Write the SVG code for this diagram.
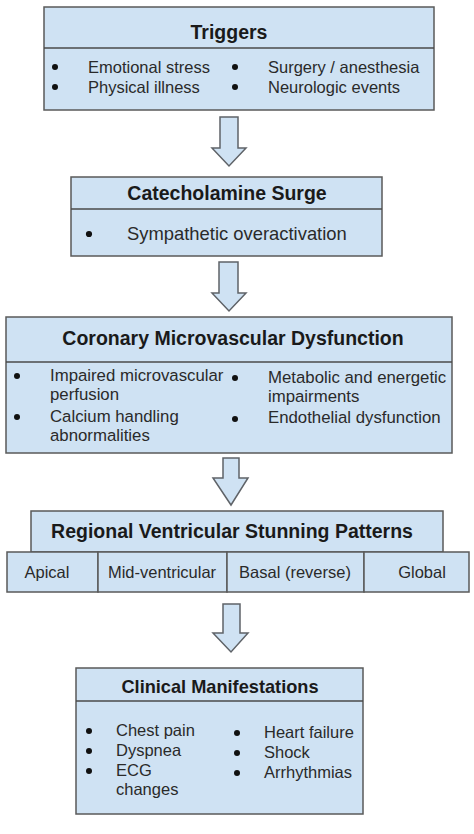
<svg xmlns="http://www.w3.org/2000/svg" width="474" height="834" viewBox="0 0 474 834">
<style>
.box{fill:#cfe2f3;stroke:#5a5a5a;stroke-width:1.5}
.div{stroke:#4a4a4a;stroke-width:1.3}
.arr{fill:#cfe2f3;stroke:#5f6368;stroke-width:1.5;stroke-linejoin:miter}
.t{font-family:"Liberation Sans",Arial,sans-serif;font-weight:bold;fill:#1a1a1a;text-anchor:middle}
.b{font-family:"Liberation Sans",Arial,sans-serif;fill:#2a2a2a;font-size:16.5px}
.c{text-anchor:middle}
.dot{fill:#111}
</style>
<rect width="474" height="834" fill="#ffffff"/>
<g id="connectors">
<path class="arr" d="M220,117 H238 V148 H246 L229,166 L212,148 H220 Z"/>
<path class="arr" d="M219,262 H238 V293 H246 L229,311 L212,293 H219 Z"/>
<path class="arr" d="M223,458 H239 V478 H248 L231,505 L213,478 H223 Z"/>
<path class="arr" d="M223,604 H240 V633 H248 L231,652 L213,633 H223 Z"/>
</g>
<g id="triggers">
<rect class="box" x="44" y="7" width="390" height="103"/>
<line class="div" x1="44" y1="48" x2="434" y2="48"/>
<text class="t" x="229" y="38.5" font-size="19.5">Triggers</text>
<circle class="dot" cx="55" cy="67" r="3"/>
<circle class="dot" cx="55" cy="87" r="3"/>
<circle class="dot" cx="235" cy="67" r="3"/>
<circle class="dot" cx="235" cy="87" r="3"/>
<text class="b" x="88" y="73">Emotional stress</text>
<text class="b" x="88" y="93">Physical illness</text>
<text class="b" x="268" y="73">Surgery / anesthesia</text>
<text class="b" x="268" y="93">Neurologic events</text>
</g>
<g id="catecholamine">
<rect class="box" x="71" y="177" width="311" height="79"/>
<line class="div" x1="71" y1="209" x2="382" y2="209"/>
<text class="t" x="227" y="200" font-size="19.5">Catecholamine Surge</text>
<circle class="dot" cx="89" cy="234" r="3.1"/>
<text class="b" x="127" y="240" style="font-size:18.4px">Sympathetic overactivation</text>
</g>
<g id="coronary">
<rect class="box" x="6" y="317" width="446" height="136"/>
<line class="div" x1="6" y1="362" x2="452" y2="362"/>
<text class="t" x="233" y="345" font-size="19.5">Coronary Microvascular Dysfunction</text>
<circle class="dot" cx="17" cy="376" r="3"/>
<circle class="dot" cx="17" cy="417" r="3"/>
<circle class="dot" cx="235" cy="378" r="3"/>
<circle class="dot" cx="235" cy="419" r="3"/>
<text class="b" x="50" y="381" style="font-size:16.8px">Impaired microvascular</text>
<text class="b" x="50" y="400" style="font-size:16.8px">perfusion</text>
<text class="b" x="50" y="422" style="font-size:16.8px">Calcium handling</text>
<text class="b" x="50" y="441" style="font-size:16.8px">abnormalities</text>
<text class="b" x="268" y="383" style="font-size:16.8px">Metabolic and energetic</text>
<text class="b" x="268" y="402" style="font-size:16.8px">impairments</text>
<text class="b" x="268" y="423" style="font-size:16.8px">Endothelial dysfunction</text>
</g>
<g id="regional">
<rect class="box" x="31" y="511" width="412" height="41"/>
<text class="t" x="232" y="538" font-size="19.5">Regional Ventricular Stunning Patterns</text>
</g>
<g id="apical">
<rect class="box" x="7" y="552" width="91" height="40"/>
<text class="b c" x="47" y="578">Apical</text>
</g>
<g id="mid-ventricular">
<rect class="box" x="98" y="552" width="129" height="40"/>
<text class="b c" x="162" y="578">Mid-ventricular</text>
</g>
<g id="basal">
<rect class="box" x="227" y="552" width="137" height="40"/>
<text class="b c" x="295" y="578">Basal (reverse)</text>
</g>
<g id="global">
<rect class="box" x="364" y="552" width="105" height="40"/>
<text class="b c" x="422" y="578">Global</text>
</g>
<g id="clinical">
<rect class="box" x="76" y="668" width="287" height="146"/>
<line class="div" x1="76" y1="701" x2="363" y2="701"/>
<text class="t" x="220" y="693" font-size="18.2">Clinical Manifestations</text>
<circle class="dot" cx="89" cy="731" r="3"/>
<circle class="dot" cx="89" cy="751" r="3"/>
<circle class="dot" cx="89" cy="771" r="3"/>
<circle class="dot" cx="237" cy="733" r="3"/>
<circle class="dot" cx="237" cy="753" r="3"/>
<circle class="dot" cx="237" cy="773" r="3"/>
<text class="b" x="116" y="736">Chest pain</text>
<text class="b" x="116" y="756">Dyspnea</text>
<text class="b" x="116" y="776">ECG</text>
<text class="b" x="116" y="795">changes</text>
<text class="b" x="264" y="738">Heart failure</text>
<text class="b" x="264" y="758">Shock</text>
<text class="b" x="264" y="778">Arrhythmias</text>
</g>
</svg>
